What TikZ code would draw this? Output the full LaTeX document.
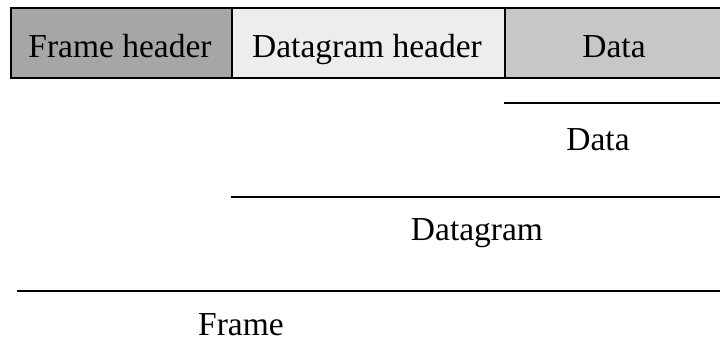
\documentclass[tikz,border=0pt]{standalone}
\usepackage{fontspec}
\setmainfont{Liberation Serif}
\begin{document}
\begin{tikzpicture}[x=1pt,y=-1pt,
  field/.style={draw=black,line width=1.5pt,minimum height=70pt,inner sep=0pt,anchor=north west},
  label/.style={font=\fontsize{33.5}{36}\selectfont,anchor=base,inner sep=0pt,text depth=0pt},
  span/.style={line width=1.8pt}]
  \useasboundingbox (0,0) rectangle (720,341);
  % header fields of the frame
  \node[field,fill=black!35,minimum width=221pt] (fh) at (10,7) {};
  \node[field,fill=black!7,minimum width=273pt] (dh) at (231,7) {};
  \node[field,fill=black!22,minimum width=216pt] (dd) at (504,7) {};
  \node[label] (tfh) at (120,57) {Frame header};
  \node[label] (tdh) at (367,57) {Datagram header};
  \node[label] (tdd) at (614,57) {Data};
  % extents of data, datagram and frame
  \coordinate (a1) at (504,103);
  \coordinate (a2) at (720,103);
  \coordinate (b1) at (231,197);
  \coordinate (b2) at (720,197);
  \coordinate (c1) at (17,291);
  \coordinate (c2) at (720,291);
  \draw[span] (a1) -- (a2);
  \draw[span] (b1) -- (b2);
  \draw[span] (c1) -- (c2);
  \node[label] (ld) at (598,150) {Data};
  \node[label] (lg) at (477,240) {Datagram};
  \node[label] (lf) at (241,335) {Frame};
\end{tikzpicture}
\end{document}
